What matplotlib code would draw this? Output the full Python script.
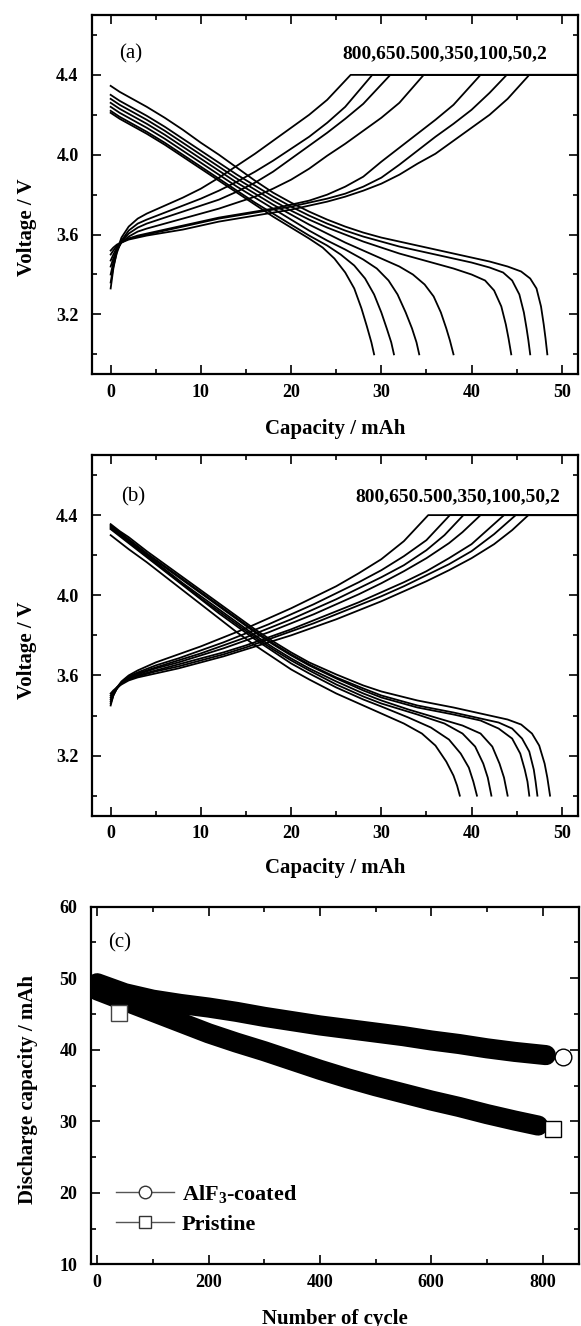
import numpy as np
import matplotlib
matplotlib.use("Agg")
from matplotlib import pyplot as plt
from matplotlib.lines import Line2D
from matplotlib.ticker import MultipleLocator, FormatStrFormatter

# Times-like serif text everywhere, bold math for the subscript
plt.rcParams.update({
    "font.family": ["Liberation Serif", "DejaVu Serif"],
    "mathtext.fontset": "custom",
    "mathtext.rm": "Liberation Serif",
    "mathtext.bf": "Liberation Serif:bold",
    "mathtext.default": "bf",
})

cycles_label = "800,650.500,350,100,50,2"

# ---- panel (a): AlF3-coated, charge curves (cycle 800 ... 2) ----
a_charge_cap = [
    [0, 0.3, 0.7, 1.2, 2, 3, 4, 6, 8, 10, 12, 14, 16, 18, 20, 22, 24, 26.6, 55],
    [0, 0.3, 0.7, 1.2, 2, 3, 4, 6, 8, 10, 12, 14, 16, 18, 20, 22, 24, 26, 29, 55],
    [0, 0.3, 0.7, 1.2, 2, 3, 4, 6, 8, 10, 12, 14, 16, 18, 20, 22, 24, 26, 28, 31, 55],
    [0, 0.3, 0.7, 1.2, 2, 3, 4, 6, 8, 10, 12, 14, 16, 18, 20, 22, 24, 26, 28, 30, 32, 34.7, 55],
    [0, 0.3, 0.7, 1.2, 2, 3, 4, 6, 8, 10, 12, 14, 16, 18, 20, 22, 24, 26, 28, 30, 32, 34, 36, 38, 41, 55],
    [0, 0.3, 0.7, 1.2, 2, 3, 4, 6, 8, 10, 12, 14, 16, 18, 20, 22, 24, 26, 28, 30, 32, 34, 36, 38, 40, 42, 43.9, 55],
    [0, 0.3, 0.7, 1.2, 2, 3, 4, 6, 8, 10, 12, 14, 16, 18, 20, 22, 24, 26, 28, 30, 32, 34, 36, 38, 40, 42, 44, 46.4, 55],
]
a_charge_v = [
    [3.33, 3.43, 3.52, 3.585, 3.64, 3.68, 3.705, 3.745, 3.785, 3.83, 3.885, 3.945, 4.005, 4.07, 4.135, 4.2, 4.275, 4.4, 4.4],
    [3.36, 3.44, 3.51, 3.57, 3.62, 3.655, 3.675, 3.71, 3.745, 3.78, 3.82, 3.865, 3.915, 3.97, 4.03, 4.09, 4.16, 4.24, 4.4, 4.4],
    [3.40, 3.46, 3.52, 3.565, 3.605, 3.635, 3.655, 3.685, 3.715, 3.745, 3.775, 3.815, 3.86, 3.915, 3.98, 4.045, 4.11, 4.18, 4.255, 4.4, 4.4],
    [3.44, 3.48, 3.525, 3.56, 3.59, 3.615, 3.63, 3.655, 3.68, 3.705, 3.73, 3.76, 3.79, 3.83, 3.875, 3.93, 3.995, 4.055, 4.12, 4.185, 4.26, 4.4, 4.4],
    [3.47, 3.50, 3.535, 3.56, 3.58, 3.595, 3.605, 3.625, 3.645, 3.665, 3.685, 3.70, 3.715, 3.73, 3.75, 3.77, 3.80, 3.84, 3.89, 3.965, 4.035, 4.105, 4.175, 4.25, 4.4, 4.4],
    [3.50, 3.52, 3.545, 3.565, 3.58, 3.59, 3.60, 3.62, 3.64, 3.66, 3.68, 3.695, 3.71, 3.725, 3.74, 3.76, 3.78, 3.805, 3.84, 3.885, 3.95, 4.02, 4.09, 4.155, 4.225, 4.31, 4.4, 4.4],
    [3.52, 3.535, 3.55, 3.56, 3.575, 3.585, 3.595, 3.61, 3.625, 3.645, 3.665, 3.68, 3.695, 3.71, 3.725, 3.745, 3.765, 3.79, 3.82, 3.855, 3.90, 3.955, 4.005, 4.07, 4.135, 4.20, 4.28, 4.4, 4.4],
]

# ---- panel (a): discharge curves ----
a_dis_cap = [
    [0, 1, 2, 4, 6, 8, 10, 12, 14, 16, 18, 20, 22, 23.5, 24.8, 26, 27, 27.8, 28.4, 28.9, 29.2],
    [0, 1, 2, 4, 6, 8, 10, 12, 14, 16, 18, 20, 22, 24, 25.5, 27, 28.2, 29.2, 30.0, 30.6, 31.1, 31.4],
    [0, 1, 2, 4, 6, 8, 10, 12, 14, 16, 18, 20, 22, 24, 26, 28, 29.5, 30.8, 31.8, 32.7, 33.4, 33.9, 34.2],
    [0, 1, 2, 4, 6, 8, 10, 12, 14, 16, 18, 20, 22, 24, 26, 28, 30, 32, 33.5, 34.8, 35.8, 36.6, 37.2, 37.6, 38.0],
    [0, 1, 2, 4, 6, 8, 10, 12, 14, 16, 18, 20, 22, 24, 26, 28, 30, 32, 34, 36, 38, 40, 41.5, 42.5, 43.3, 43.8, 44.1, 44.4],
    [0, 1, 2, 4, 6, 8, 10, 12, 14, 16, 18, 20, 22, 24, 26, 28, 30, 32, 34, 36, 38, 40, 42, 43.5, 44.5, 45.3, 45.8, 46.1, 46.3, 46.5],
    [0, 1, 2, 4, 6, 8, 10, 12, 14, 16, 18, 20, 22, 24, 26, 28, 30, 32, 34, 36, 38, 40, 42, 44, 45.5, 46.5, 47.2, 47.7, 48.0, 48.2, 48.4],
]
a_dis_v = [
    [4.21, 4.18, 4.155, 4.105, 4.05, 3.99, 3.93, 3.87, 3.81, 3.75, 3.69, 3.635, 3.58, 3.535, 3.48, 3.41, 3.33, 3.23, 3.14, 3.06, 3.0],
    [4.22, 4.19, 4.165, 4.115, 4.06, 4.0, 3.94, 3.88, 3.82, 3.76, 3.705, 3.65, 3.595, 3.545, 3.50, 3.445, 3.38, 3.30, 3.21, 3.13, 3.06, 3.0],
    [4.24, 4.21, 4.185, 4.135, 4.08, 4.02, 3.96, 3.90, 3.84, 3.785, 3.73, 3.675, 3.62, 3.57, 3.525, 3.475, 3.43, 3.37, 3.30, 3.21, 3.13, 3.06, 3.0],
    [4.26, 4.23, 4.205, 4.155, 4.10, 4.04, 3.98, 3.92, 3.86, 3.805, 3.75, 3.70, 3.65, 3.605, 3.56, 3.52, 3.48, 3.44, 3.40, 3.35, 3.29, 3.21, 3.13, 3.07, 3.0],
    [4.28, 4.25, 4.225, 4.175, 4.12, 4.06, 4.0, 3.94, 3.88, 3.825, 3.77, 3.72, 3.675, 3.635, 3.60, 3.565, 3.535, 3.505, 3.48, 3.455, 3.43, 3.40, 3.37, 3.32, 3.24, 3.15, 3.08, 3.0],
    [4.30, 4.27, 4.245, 4.195, 4.14, 4.08, 4.02, 3.96, 3.90, 3.845, 3.79, 3.74, 3.695, 3.655, 3.62, 3.59, 3.565, 3.54, 3.52, 3.50, 3.48, 3.46, 3.435, 3.41, 3.37, 3.30, 3.21, 3.13, 3.07, 3.0],
    [4.345, 4.315, 4.29, 4.24, 4.185, 4.125, 4.06, 4.0, 3.935, 3.87, 3.81, 3.76, 3.715, 3.675, 3.64, 3.61, 3.585, 3.565, 3.545, 3.525, 3.505, 3.485, 3.465, 3.44, 3.415, 3.38, 3.33, 3.24, 3.15, 3.08, 3.0],
]

# ---- panel (b): pristine, charge curves ----
b_charge_cap = [
    [0, 0.3, 0.7, 1.2, 2, 3, 5, 7.5, 10, 12.5, 15, 17.5, 20, 22.5, 25, 27.5, 30, 32.5, 35.2, 55],
    [0, 0.3, 0.7, 1.2, 2, 3, 5, 7.5, 10, 12.5, 15, 17.5, 20, 22.5, 25, 27.5, 30, 32.5, 35, 37.6, 55],
    [0, 0.3, 0.7, 1.2, 2, 3, 5, 7.5, 10, 12.5, 15, 17.5, 20, 22.5, 25, 27.5, 30, 32.5, 35, 37, 39.1, 55],
    [0, 0.3, 0.7, 1.2, 2, 3, 5, 7.5, 10, 12.5, 15, 17.5, 20, 22.5, 25, 27.5, 30, 32.5, 35, 37.5, 39, 41.0, 55],
    [0, 0.3, 0.7, 1.2, 2, 3, 5, 7.5, 10, 12.5, 15, 17.5, 20, 22.5, 25, 27.5, 30, 32.5, 35, 37.5, 40, 43.6, 55],
    [0, 0.3, 0.7, 1.2, 2, 3, 5, 7.5, 10, 12.5, 15, 17.5, 20, 22.5, 25, 27.5, 30, 32.5, 35, 37.5, 40, 42.5, 44.9, 55],
    [0, 0.3, 0.7, 1.2, 2, 3, 5, 7.5, 10, 12.5, 15, 17.5, 20, 22.5, 25, 27.5, 30, 32.5, 35, 37.5, 40, 42.5, 44.5, 46.3, 55],
]
b_charge_v = [
    [3.45, 3.50, 3.54, 3.57, 3.60, 3.625, 3.665, 3.705, 3.745, 3.79, 3.835, 3.885, 3.935, 3.99, 4.045, 4.11, 4.18, 4.27, 4.4, 4.4],
    [3.46, 3.50, 3.535, 3.565, 3.595, 3.615, 3.65, 3.685, 3.725, 3.765, 3.81, 3.855, 3.905, 3.955, 4.01, 4.065, 4.125, 4.195, 4.275, 4.4, 4.4],
    [3.47, 3.505, 3.535, 3.56, 3.59, 3.61, 3.64, 3.675, 3.71, 3.75, 3.79, 3.835, 3.88, 3.93, 3.98, 4.035, 4.09, 4.15, 4.225, 4.30, 4.4, 4.4],
    [3.48, 3.51, 3.535, 3.56, 3.585, 3.605, 3.635, 3.665, 3.70, 3.735, 3.775, 3.815, 3.86, 3.905, 3.955, 4.005, 4.06, 4.12, 4.185, 4.26, 4.315, 4.4, 4.4],
    [3.49, 3.515, 3.54, 3.56, 3.58, 3.60, 3.625, 3.655, 3.685, 3.715, 3.75, 3.79, 3.83, 3.875, 3.92, 3.965, 4.015, 4.065, 4.12, 4.185, 4.255, 4.4, 4.4],
    [3.50, 3.52, 3.54, 3.56, 3.58, 3.595, 3.62, 3.645, 3.675, 3.705, 3.74, 3.78, 3.82, 3.86, 3.905, 3.95, 3.995, 4.045, 4.10, 4.155, 4.22, 4.305, 4.4, 4.4],
    [3.51, 3.525, 3.54, 3.555, 3.575, 3.59, 3.61, 3.635, 3.665, 3.695, 3.73, 3.765, 3.80, 3.84, 3.88, 3.925, 3.97, 4.02, 4.07, 4.125, 4.185, 4.255, 4.325, 4.4, 4.4],
]

# ---- panel (b): discharge curves ----
b_dis_cap = [
    [0, 1, 2, 4, 6, 8, 10, 12, 14, 16, 18, 20, 22, 25, 28, 30, 32.5, 34.5, 36, 37.2, 38.0, 38.4, 38.7],
    [0, 1, 2, 4, 6, 8, 10, 12, 14, 16, 18, 20, 22, 25, 28, 30, 33, 35.5, 37.5, 38.8, 39.7, 40.2, 40.6],
    [0, 1, 2, 4, 6, 8, 10, 12, 14, 16, 18, 20, 22, 25, 28, 30, 34, 37, 39, 40.4, 41.3, 41.8, 42.2],
    [0, 1, 2, 4, 6, 8, 10, 12, 14, 16, 18, 20, 22, 25, 28, 30, 33, 36, 39, 41, 42.3, 43.1, 43.6, 44.0],
    [0, 1, 2, 4, 6, 8, 10, 12, 14, 16, 18, 20, 22, 25, 28, 30, 34, 38, 41, 43, 44.5, 45.4, 45.9, 46.2, 46.4],
    [0, 1, 2, 4, 6, 8, 10, 12, 14, 16, 18, 20, 22, 25, 28, 30, 34, 38, 40, 43, 44.5, 45.6, 46.4, 46.9, 47.1, 47.3],
    [0, 1, 2, 4, 6, 8, 10, 12, 14, 16, 18, 20, 22, 25, 28, 30, 34, 38, 40, 42, 44, 45.5, 46.7, 47.5, 48.1, 48.4, 48.7],
]
b_dis_v = [
    [4.30, 4.265, 4.23, 4.165, 4.095, 4.025, 3.955, 3.885, 3.815, 3.75, 3.69, 3.63, 3.58, 3.51, 3.45, 3.41, 3.36, 3.31, 3.25, 3.17, 3.10, 3.05, 3.0],
    [4.33, 4.295, 4.26, 4.19, 4.12, 4.05, 3.98, 3.91, 3.845, 3.78, 3.72, 3.66, 3.61, 3.54, 3.48, 3.445, 3.39, 3.34, 3.28, 3.21, 3.14, 3.07, 3.0],
    [4.335, 4.30, 4.265, 4.195, 4.125, 4.055, 3.985, 3.92, 3.855, 3.79, 3.73, 3.675, 3.625, 3.555, 3.495, 3.46, 3.405, 3.36, 3.31, 3.245, 3.16, 3.09, 3.0],
    [4.34, 4.305, 4.27, 4.20, 4.13, 4.06, 3.995, 3.93, 3.865, 3.80, 3.74, 3.685, 3.635, 3.57, 3.51, 3.475, 3.43, 3.39, 3.35, 3.31, 3.245, 3.16, 3.09, 3.0],
    [4.345, 4.31, 4.275, 4.205, 4.14, 4.075, 4.01, 3.945, 3.88, 3.815, 3.755, 3.70, 3.65, 3.585, 3.525, 3.49, 3.44, 3.405, 3.375, 3.335, 3.285, 3.21, 3.13, 3.07, 3.0],
    [4.35, 4.315, 4.28, 4.21, 4.145, 4.08, 4.015, 3.95, 3.885, 3.82, 3.76, 3.705, 3.655, 3.59, 3.535, 3.50, 3.45, 3.415, 3.395, 3.365, 3.335, 3.285, 3.22, 3.13, 3.07, 3.0],
    [4.355, 4.32, 4.29, 4.22, 4.155, 4.09, 4.025, 3.96, 3.895, 3.83, 3.77, 3.715, 3.665, 3.605, 3.55, 3.52, 3.475, 3.44, 3.42, 3.40, 3.38, 3.355, 3.31, 3.25, 3.16, 3.09, 3.0],
]

# ---- panel (c): discharge capacity vs cycle ----
alf3_cycle = [0, 50, 100, 150, 200, 250, 300, 350, 400, 450, 500, 550, 600, 650, 700, 750, 806]
alf3_cap = [49.3, 47.9, 47.0, 46.4, 45.9, 45.3, 44.6, 44.0, 43.4, 42.9, 42.4, 41.9, 41.3, 40.8, 40.2, 39.7, 39.25]
alf3_last = (837, 39.0)
pristine_cycle = [0, 50, 100, 150, 200, 250, 300, 350, 400, 450, 500, 550, 600, 650, 700, 750, 792]
pristine_cap = [48.3, 46.8, 45.3, 43.8, 42.3, 41.0, 39.8, 38.5, 37.2, 36.0, 34.9, 33.9, 32.9, 32.0, 31.0, 30.1, 29.4]
pristine_last = (819, 28.9)
pristine_odd = (40, 45.2)

W, H = 581, 1326
fig = plt.figure(figsize=(W / 100, H / 100), dpi=100)


def box(l, t, r, b):
    return [l / W, 1 - b / H, (r - l) / W, (b - t) / H]


def style(ax):
    for s in ax.spines.values():
        s.set_linewidth(1.6)
    ax.tick_params(which="both", direction="in", top=True, right=True, width=1.2)
    ax.tick_params(which="major", length=6.5, labelsize=13)
    ax.tick_params(axis="x", which="major", pad=7)
    ax.tick_params(axis="y", which="major", pad=9.5)
    ax.tick_params(which="minor", length=3.6)
    for lab in ax.get_xticklabels() + ax.get_yticklabels():
        lab.set_fontweight("bold")


def voltage_panel(ax, ch_x, ch_v, di_x, di_v, tag, tag_xy, note_xy, ylab_y, xlab_y):
    for x, v in zip(ch_x, ch_v):
        ax.plot(x, v, color="black", lw=1.3)
    for x, v in zip(di_x, di_v):
        ax.plot(x, v, color="black", lw=1.3)
    ax.set_xlim(-2.1, 51.8)
    ax.set_ylim(2.90, 4.70)
    ax.xaxis.set_major_locator(MultipleLocator(10))
    ax.xaxis.set_minor_locator(MultipleLocator(5))
    ax.set_yticks([3.2, 3.6, 4.0, 4.4])
    ax.set_yticks([3.0, 3.4, 3.8, 4.2, 4.6], minor=True)
    ax.yaxis.set_major_formatter(FormatStrFormatter("%.1f"))
    ax.text(tag_xy[0], tag_xy[1], tag, fontsize=15, ha="center", va="center")
    ax.text(note_xy[0], note_xy[1], cycles_label, fontsize=14, fontweight="bold",
            ha="right", va="center")
    ax.set_xlabel("Capacity / mAh", fontsize=15, fontweight="bold")
    ax.set_ylabel("Voltage / V", fontsize=15, fontweight="bold")
    ax.xaxis.set_label_coords(0.5, xlab_y)
    ax.yaxis.set_label_coords(-0.112, ylab_y)
    style(ax)


ax_a = fig.add_axes(box(91.7, 15, 578, 374.3))
voltage_panel(ax_a, a_charge_cap, a_charge_v, a_dis_cap, a_dis_v, "(a)",
              (2.2, 4.505), (48.4, 4.505), 0.41, -0.125)

ax_b = fig.add_axes(box(91.7, 455, 578, 815.7))
voltage_panel(ax_b, b_charge_cap, b_charge_v, b_dis_cap, b_dis_v, "(b)",
              (2.5, 4.49), (49.8, 4.49), 0.46, -0.117)

ax_c = fig.add_axes(box(90.5, 906.7, 579.3, 1264.3))
ax_c.plot(pristine_cycle, pristine_cap, color="black", lw=14.5, solid_capstyle="round", solid_joinstyle="round")
ax_c.plot(alf3_cycle, alf3_cap, color="black", lw=14.5, solid_capstyle="round", solid_joinstyle="round")
ax_c.plot([pristine_odd[0]], [pristine_odd[1]], "s", ms=11, mfc="white", mec="#444444", mew=1)
ax_c.plot([alf3_last[0]], [alf3_last[1]], "o", ms=12, mfc="white", mec="black", mew=1)
ax_c.plot([pristine_last[0]], [pristine_last[1]], "s", ms=12, mfc="white", mec="black", mew=1)
ax_c.set_xlim(-12, 866)
ax_c.set_ylim(10, 60)
ax_c.xaxis.set_major_locator(MultipleLocator(200))
ax_c.xaxis.set_minor_locator(MultipleLocator(100))
ax_c.yaxis.set_major_locator(MultipleLocator(10))
ax_c.yaxis.set_minor_locator(MultipleLocator(5))
ax_c.text(40, 54.9, "(c)", fontsize=15, ha="center", va="center")
ax_c.set_xlabel("Number of cycle", fontsize=15, fontweight="bold")
ax_c.set_ylabel("Discharge capacity / mAh", fontsize=15, fontweight="bold")
ax_c.xaxis.set_label_coords(0.5, -0.126)
ax_c.yaxis.set_label_coords(-0.108, 0.49)
style(ax_c)

handles = [
    Line2D([], [], color="#555555", lw=1, marker="o", ms=9, mfc="white", mec="#333333"),
    Line2D([], [], color="#555555", lw=1, marker="s", ms=9, mfc="white", mec="#333333"),
]
ax_c.legend(handles, ["AlF$_3$-coated", "Pristine"], loc="center left",
            bbox_to_anchor=(0.03, 0.155), frameon=False, borderpad=0,
            handlelength=2.6, handletextpad=0.35, labelspacing=0.45,
            prop={"size": 16, "weight": "bold"})

fig.savefig("out.png", dpi=100)
